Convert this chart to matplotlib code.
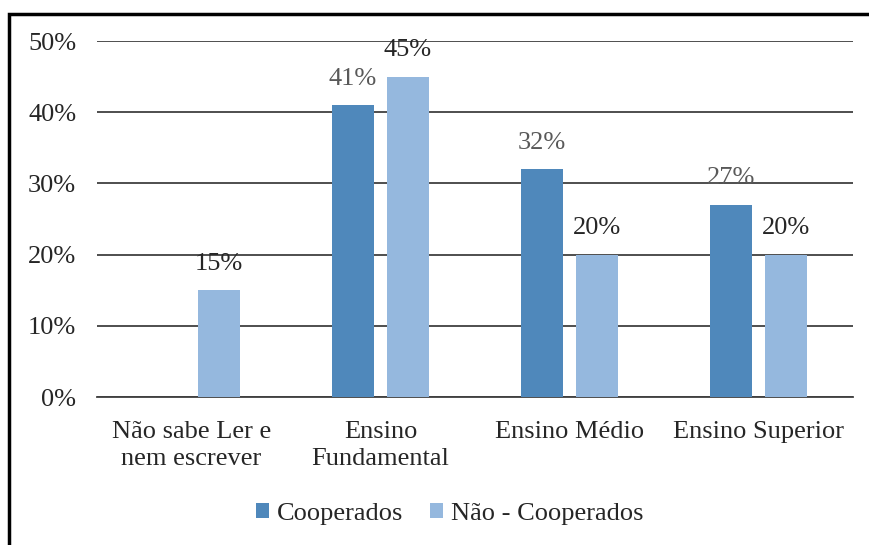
import numpy as np
import matplotlib
matplotlib.use("Agg")
import matplotlib.pyplot as plt
from matplotlib.patches import Rectangle

categorias = ['Não sabe Ler e\nnem escrever', 'Ensino\nFundamental', 'Ensino Médio', 'Ensino Superior']
cooperados = [0, 41, 32, 27]
nao_cooperados = [15, 45, 20, 20]
rotulos_coop = [None, '41%', '32%', '27%']
rotulos_nao = ['15%', '45%', '20%', '20%']
yticks = [0, 10, 20, 30, 40, 50]

plt.rcParams['font.family'] = ['Liberation Serif', 'DejaVu Serif']

fig = plt.figure(figsize=(8.7, 5.45), dpi=100)
ax = fig.add_axes([97/870, 1-397/545, 756/870, 356/545])

x = np.arange(len(categorias))
w = 0.222
off = 0.145
cor1 = '#4f88bb'
cor2 = '#95b8de'
b1 = ax.bar(x - off, cooperados, w, color=cor1, label='Cooperados', zorder=3)
b2 = ax.bar(x + off, nao_cooperados, w, color=cor2, label='Não - Cooperados', zorder=3)

for rect, txt in zip(b1, rotulos_coop):
    if txt:
        ax.annotate(txt, (rect.get_x() + rect.get_width()/2, rect.get_height()),
                    xytext=(0, 11), textcoords='offset points', ha='center', va='bottom',
                    fontsize=19, color='#595959')
for rect, txt in zip(b2, rotulos_nao):
    ax.annotate(txt, (rect.get_x() + rect.get_width()/2, rect.get_height()),
                xytext=(0, 11), textcoords='offset points', ha='center', va='bottom',
                fontsize=19, color='#262626')

ax.set_xlim(-0.5, 3.5)
ax.set_ylim(0, 50)
ax.set_yticks(yticks)
ax.set_yticklabels([f'{v}%' for v in yticks], fontsize=19, color='#262626')
ax.set_xticks(x)
ax.set_xticklabels(categorias, fontsize=19, color='#262626', linespacing=1.3)
ax.tick_params(axis='both', length=0)
ax.tick_params(axis='y', pad=15)
ax.tick_params(axis='x', pad=17)
ax.yaxis.grid(True, color='#404040', linewidth=1.3, zorder=0)
for s in ['top', 'right', 'left']:
    ax.spines[s].set_visible(False)
ax.spines['bottom'].set_color('#404040')
ax.spines['bottom'].set_linewidth(1.3)

fig.legend(handles=[b1, b2], loc='center', bbox_to_anchor=(450/870, 1-514/545), ncol=2,
           frameon=False, fontsize=19, handlelength=0.5, handleheight=0.5,
           handletextpad=0.3, columnspacing=1.0, labelcolor='#262626')

fig.patches.append(Rectangle((9.5/870, -0.1), 1.2, 1-13.5/545+0.1, transform=fig.transFigure,
                             fill=False, edgecolor='black', linewidth=2.5))

fig.savefig('out.png', dpi=100)
